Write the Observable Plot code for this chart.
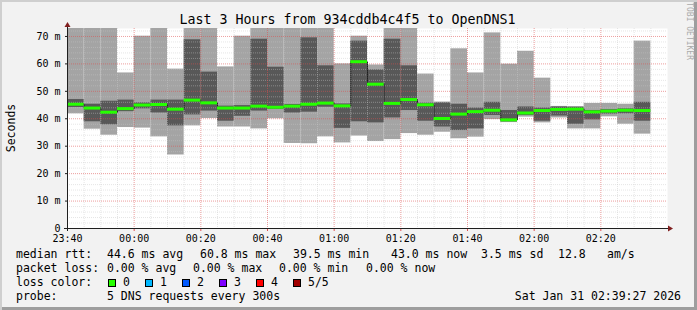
<!DOCTYPE html>
<html><head><meta charset="utf-8">
<script src="https://cdn.jsdelivr.net/npm/d3@7"></script>
<script src="https://cdn.jsdelivr.net/npm/@observablehq/plot@0.6"></script>
<style>
html,body{margin:0;padding:0;background:#f2f2f2;}
#chart{position:relative;width:697px;height:310px;overflow:hidden;background:#f2f2f2;
  box-shadow: inset 2px 2px 0 #cfcfcf, inset -3px -3px 0 #9e9e9e;}
#chart svg{position:absolute;left:0;top:0;}
</style></head><body><div id="chart"></div>
<script>
// ---- data (ms), one bar per 5-minute step ----
const times = ["23:40","23:45","23:50","23:55","00:00","00:05","00:10","00:15","00:20","00:25",
  "00:30","00:35","00:40","00:45","00:50","00:55","01:00","01:05","01:10","01:15",
  "01:20","01:25","01:30","01:35","01:40","01:45","01:50","01:55","02:00","02:05",
  "02:10","02:15","02:20","02:25","02:30"];
const minRtt = [41.8,36.2,34.0,36.8,36.6,33.4,26.8,37.4,40.1,37.0,37.0,36.3,40.0,31.0,30.9,33.4,31.2,33.7,31.7,32.4,
  34.6,34.0,35.1,32.7,33.3,39.7,38.6,40.6,38.5,40.3,36.3,36.3,40.7,38.0,34.4];
const lowQ = [44.1,38.9,37.8,42.6,43.6,42.1,37.4,41.4,42.8,39.1,40.9,42.8,43.4,42.1,42.4,44.2,36.5,38.9,38.5,40.3,
  43.0,39.1,37.0,35.7,36.3,41.2,38.9,41.2,39.1,41.0,38.0,39.6,41.7,41.8,39.1];
const median = [45.3,43.9,42.4,43.7,45.0,45.2,43.5,46.8,45.8,43.9,43.9,44.6,44.2,44.6,45.3,45.7,44.7,60.8,52.6,45.6,
  47.0,45.1,40.1,41.7,42.6,43.1,39.6,42.1,43.0,43.4,43.5,42.5,42.8,43.1,43.0];
const highQ = [47.0,45.3,46.4,46.8,45.8,46.8,46.8,68.8,57.0,44.6,44.8,69.0,58.8,45.2,69.5,59.3,45.4,68.3,57.8,69.0,
  59.3,45.7,45.8,45.3,43.9,46.0,43.0,44.3,43.9,44.3,44.2,43.0,43.3,43.6,46.0];
const maxRtt = [75,75,75,56.7,70.1,75,58.1,75,75,58.9,70.1,75,75,75,75,75,60.0,70.1,59.6,75,
  75,56.3,46.1,65.5,56.7,71.3,59.9,64.6,54.8,44.5,44.4,45.6,45.6,45.3,68.3];

const xTickLabels = ["23:40","00:00","00:20","00:40","01:00","01:20","01:40","02:00","02:20"];
const yTicks = [0,10,20,30,40,50,60,70];
const xDomainLabels = ["23:40","02:40"];

const lossLabels = ["0","1","2","3","4","5/5"];
const lossColors = ["#26ff00","#00b8ff","#0059ff","#7e00ff","#ff0000","#a10000"];

const titleText = "Last 3 Hours from 934cddb4c4f5 to OpenDNS1";
const statsLine1 = [["median rtt:",16],["44.6 ms avg",107],["60.8 ms max",200],["39.5 ms min",293],["43.0 ms now",391],["3.5 ms sd",481],["12.8",558],["am/s",607]];
const statsLine2 = [["packet loss:",16],["0.00 % avg",107],["0.00 % max",193],["0.00 % min",279],["0.00 % now",366]];
const probeText = "5 DNS requests every 300s";
const dateText = "Sat Jan 31 02:39:27 2026";

// ---- build ----
const toDate = s => { const [h,m] = s.split(":").map(Number); return new Date(Date.UTC(2026, 0, h >= 12 ? 30 : 31, h, m)); };
const step = 5 * 60 * 1000;
const rows = times.map((s, i) => {
  const t = toDate(s);
  return {t, t2: new Date(+t + step), min: minRtt[i], lo: lowQ[i], med: median[i], hi: highQ[i], max: maxRtt[i]};
});
const xStart = toDate(xDomainLabels[0]), xEnd = toDate(xDomainLabels[1]);
const xTicks = xTickLabels.map(toDate);
const minorX = d3.utcMinute.every(5).range(xStart, xEnd).filter(d => d.getUTCMinutes() % 20 !== 0);
const majorX = xTicks.filter(d => +d !== +xStart);
const minorY = d3.range(2, 73, 2).filter(d => d % 10 !== 0);
const majorY = yTicks.filter(d => d > 0);

const font = "DejaVu Sans Mono";
const plot = Plot.plot({
  width: 697, height: 310,
  marginLeft: 67, marginRight: 30, marginTop: 28, marginBottom: 82,
  style: {background: "transparent", fontFamily: font, fontSize: "10px", color: "#000"},
  x: {type: "utc", domain: [xStart, xEnd], axis: null},
  y: {domain: [0, 72.9], axis: null},
  marks: [
    Plot.frame({fill: "white", stroke: null}),
    Plot.rectY(rows, {x1: "t", x2: "t2", y1: "min", y2: "max", fill: "#a4a4a4", clip: true, inset: 0}),
    Plot.rectY(rows, {x1: "t", x2: "t2", y1: "lo", y2: "hi", fill: "#585858", clip: true, inset: 0}),
    Plot.ruleY(minorY, {stroke: "#c8c8c8", strokeOpacity: 0.45, strokeDasharray: "1,1"}),
    Plot.ruleX(minorX, {stroke: "#c8c8c8", strokeOpacity: 0.45, strokeDasharray: "1,1"}),
    Plot.ruleY(majorY, {stroke: "#de4f4f", strokeOpacity: 0.55, strokeDasharray: "1,1"}),
    Plot.ruleX(majorX, {stroke: "#de4f4f", strokeOpacity: 0.55, strokeDasharray: "1,1"}),
    Plot.line(rows, {x: "t", y: "med", curve: "step-after", stroke: "#202020", strokeWidth: 1, strokeDasharray: "1,1"}),
    Plot.ruleY(rows, {y: "med", x1: "t", x2: "t2", stroke: lossColors[0], strokeWidth: 3}),
    Plot.axisY(yTicks, {tickFormat: d => d === 0 ? "0" : d + " m", tickSize: 2, tickPadding: 5, label: null, fontSize: 10, stroke: "#1f1f1f"}),
    Plot.axisX(xTicks, {tickFormat: d3.utcFormat("%H:%M"), tickSize: 3, tickPadding: 3, label: null, fontSize: 10, stroke: "#de4f4f"})
  ]
});
document.getElementById("chart").appendChild(plot);

// ---- decorations: axes with arrows, title, labels, legend ----
const svg = d3.select(plot);
const xs = plot.scale("x").range, ys = plot.scale("y").range; // [left,right], [bottom,top]
const x0 = xs[0], x1 = xs[1], yb = ys[0], yt = ys[1];
const deco = svg.append("g");
deco.append("line").attr("x1", x0 - 3).attr("x2", x1 + 2).attr("y1", yb + 0.5).attr("y2", yb + 0.5).attr("stroke", "#1f1f1f");
deco.append("line").attr("x1", x0 + 0.5).attr("x2", x0 + 0.5).attr("y1", yb + 3).attr("y2", yt - 3).attr("stroke", "#1f1f1f");
deco.append("path").attr("d", `M${x1+1},${yb-2.5}L${x1+6},${yb+0.5}L${x1+1},${yb+3.5}Z`).attr("fill", "#801f1f");
deco.append("path").attr("d", `M${x0-2.5},${yt-1}L${x0+0.5},${yt-6}L${x0+3.5},${yt-1}Z`).attr("fill", "#801f1f");

const fs = 11.5;
const txt = (s, x, y, opts = {}) => deco.append("text").attr("x", x).attr("y", y)
  .attr("font-family", font).attr("font-size", opts.size || fs).attr("fill", opts.fill || "#000")
  .attr("text-anchor", opts.anchor || "start").attr("xml:space", "preserve").text(s);

txt(titleText, 347.5, 24, {size: 13.3, anchor: "middle"});
deco.append("text").attr("transform", `translate(15,${(yb + yt) / 2}) rotate(-90)`)
  .attr("font-family", font).attr("font-size", fs).attr("text-anchor", "middle").text("Seconds");
deco.append("text").attr("x", 687).attr("y", 7)
  .style("writing-mode", "vertical-rl").style("text-orientation", "sideways")
  .attr("font-family", font).attr("font-size", 8).attr("fill", "#aaaaaa").text("RRDTOOL / TOBI OETIKER");

statsLine1.forEach(([s, x]) => txt(s, x, 258));
statsLine2.forEach(([s, x]) => txt(s, x, 272));
txt("loss color:", 16, 286);
lossLabels.forEach((lab, i) => {
  const bx = 108 + i * 37;
  deco.append("rect").attr("x", bx + 0.5).attr("y", 279.5).attr("width", 7).attr("height", 7)
    .attr("fill", lossColors[i]).attr("stroke", "#000");
  txt(lab, bx + 15, 286);
});
txt("probe:", 16, 300);
txt(probeText, 107, 300);
txt(dateText, 681, 300, {anchor: "end"});
</script></body></html>
